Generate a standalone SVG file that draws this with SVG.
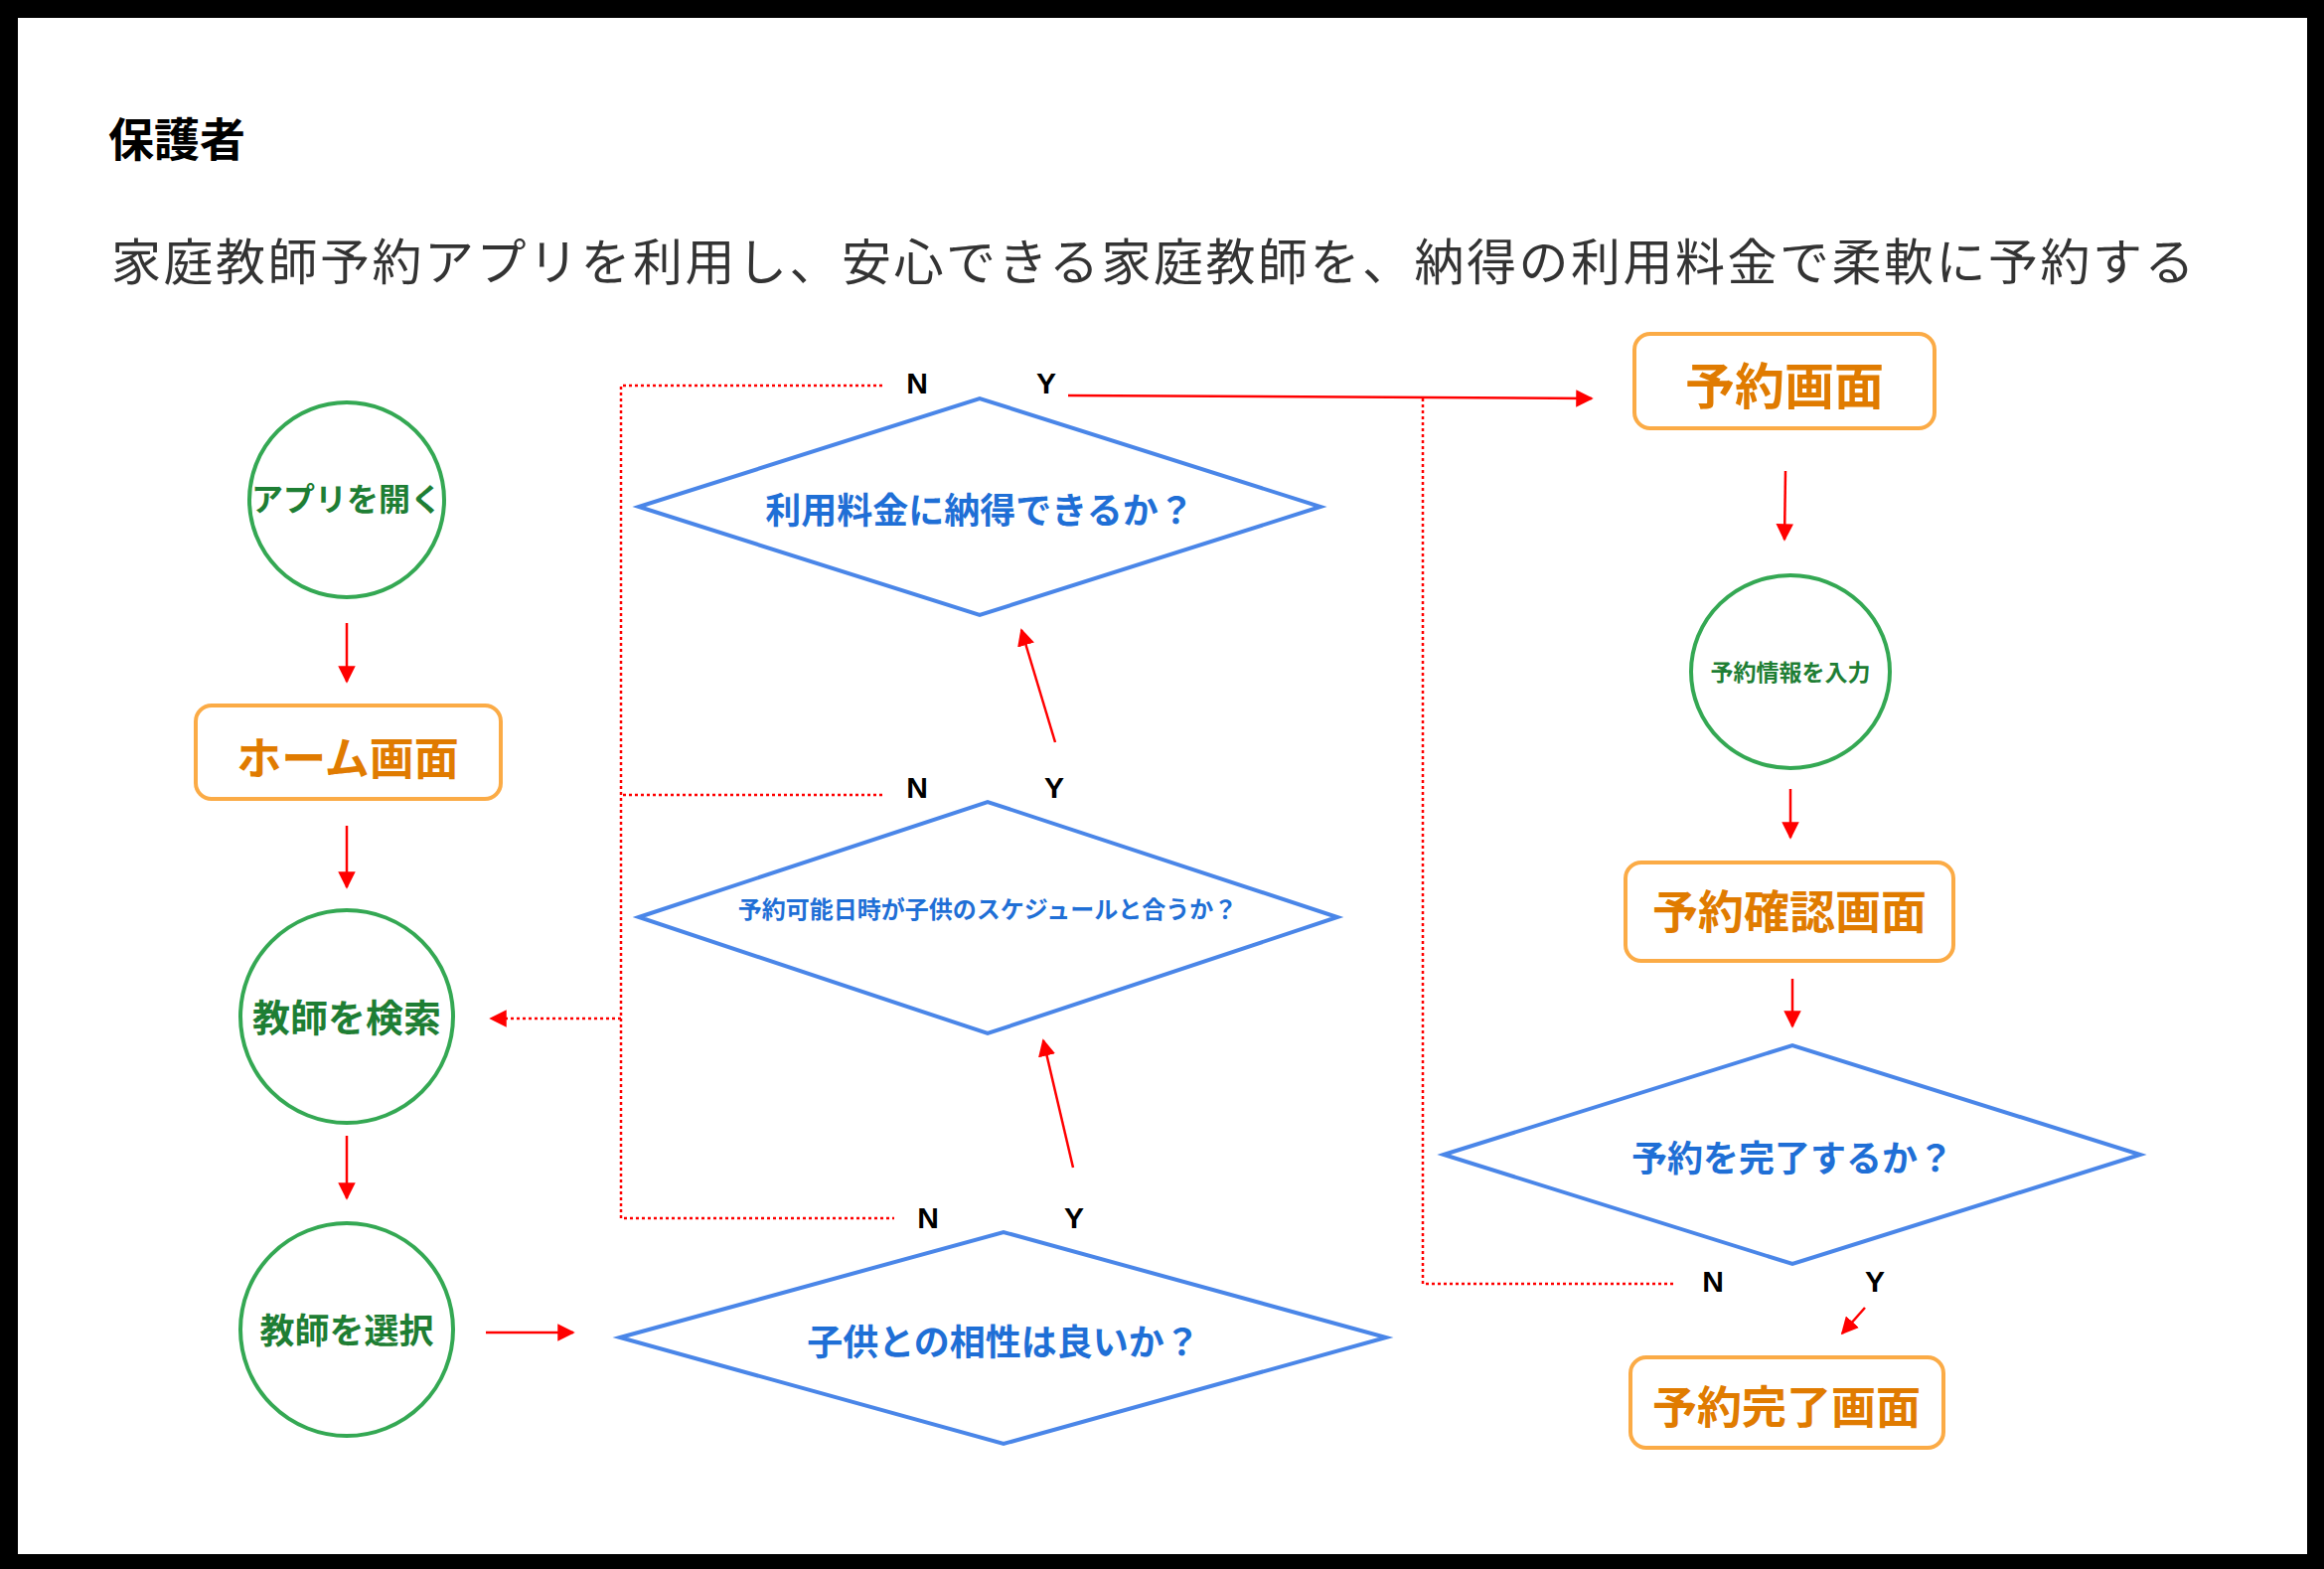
<svg xmlns="http://www.w3.org/2000/svg" width="2339" height="1579" viewBox="0 0 2339 1579">
<style>
text{font-family:"Noto Sans CJK JP","Noto Sans",sans-serif;text-anchor:middle;dominant-baseline:central}
.c{fill:#fff;stroke:#34a853;stroke-width:4}
.ct{fill:#1e7e34;font-weight:bold}
.r{fill:#fff;stroke:#fbab46;stroke-width:4}
.rt{fill:#e07b00;font-weight:bold}
.d{fill:#fff;stroke:#4a86e8;stroke-width:4}
.dt{fill:#1f6fd6;font-weight:bold}
.yn{font-family:"Liberation Sans",Arial,sans-serif;font-weight:bold;font-size:30px;fill:#000}
.s{stroke:#f00;stroke-width:2.5;fill:none}
.dot{stroke:#f00;stroke-width:2.5;fill:none;stroke-dasharray:3 3}
</style>
<defs><marker id="a" viewBox="0 0 10 10" refX="9" refY="5" markerWidth="7" markerHeight="7" orient="auto" markerUnits="strokeWidth"><path d="M0,0L10,5L0,10z" fill="#f00"/></marker></defs>
<rect x="0" y="0" width="2339" height="1579" fill="#000"/>
<rect x="18" y="18" width="2304" height="1546" fill="#fff"/>
<text x="109" y="137" style="text-anchor:start;font-size:46px;font-weight:bold" fill="#000">保護者</text>
<text x="112" y="260" style="text-anchor:start;font-size:50px;letter-spacing:2.5px" fill="#333">家庭教師予約アプリを利用し、安心できる家庭教師を、納得の利用料金で柔軟に予約する</text>
<g id="connectors">
<path class="s" d="M349,627V686" marker-end="url(#a)"/>
<path class="s" d="M349,831V893" marker-end="url(#a)"/>
<path class="s" d="M349,1143V1206" marker-end="url(#a)"/>
<path class="s" d="M489,1341H577" marker-end="url(#a)"/>
<path class="s" d="M1080,1175L1050,1047" marker-end="url(#a)"/>
<path class="s" d="M1062,747L1028,634" marker-end="url(#a)"/>
<path class="s" d="M1075,398L1602,401" marker-end="url(#a)"/>
<path class="dot" d="M1432,401V1292H1687"/>
<path class="s" d="M1797,474L1796,543" marker-end="url(#a)"/>
<path class="s" d="M1802,794V843" marker-end="url(#a)"/>
<path class="s" d="M1804,985V1033" marker-end="url(#a)"/>
<path class="s" d="M1877,1316L1854,1342" marker-end="url(#a)"/>
<path class="dot" d="M888,388H625V1226H900"/>
<path class="dot" d="M888,800H627"/>
<path class="dot" d="M625,1025H494" marker-end="url(#a)"/>
</g>
<g id="n1"><circle class="c" cx="349" cy="503" r="98"/><text class="ct" x="349" y="500" font-size="32">アプリを開く</text></g>
<g id="n2"><rect class="r" x="197" y="710" width="307" height="94" rx="16"/><text class="rt" x="350" y="760" font-size="45">ホーム画面</text></g>
<g id="n3"><circle class="c" cx="349" cy="1023" r="107"/><text class="ct" x="349" y="1021" font-size="38">教師を検索</text></g>
<g id="n4"><circle class="c" cx="349" cy="1338" r="107"/><text class="ct" x="349" y="1336" font-size="35">教師を選択</text></g>
<g id="d1"><path class="d" d="M643,510L986,401L1329,510L986,619Z"/><text class="dt" x="986" y="511" font-size="36">利用料金に納得できるか？</text></g>
<g id="d2"><path class="d" d="M643,923L994,807L1346,923L994,1040Z"/><text class="dt" x="994" y="913" font-size="24">予約可能日時が子供のスケジュールと合うか？</text></g>
<g id="d3"><path class="d" d="M624,1346L1010,1240L1395,1346L1010,1453Z"/><text class="dt" x="1010" y="1348" font-size="36">子供との相性は良いか？</text></g>
<g id="n5"><rect class="r" x="1645" y="336" width="302" height="95" rx="16"/><text class="rt" x="1796" y="385" font-size="50">予約画面</text></g>
<g id="n6"><ellipse class="c" cx="1802" cy="676" rx="100" ry="97"/><text class="ct" x="1802" y="675" font-size="23">予約情報を入力</text></g>
<g id="n7"><rect class="r" x="1636" y="868" width="330" height="99" rx="16"/><text class="rt" x="1801" y="914" font-size="46">予約確認画面</text></g>
<g id="d4"><path class="d" d="M1453,1162L1804,1052L2154,1162L1804,1272Z"/><text class="dt" x="1804" y="1163" font-size="36">予約を完了するか？</text></g>
<g id="n8"><rect class="r" x="1641" y="1366" width="315" height="91" rx="16"/><text class="rt" x="1798" y="1413" font-size="45">予約完了画面</text></g>
<g id="labels">
<text class="yn" x="923" y="385">N</text><text class="yn" x="1053" y="385">Y</text>
<text class="yn" x="923" y="792">N</text><text class="yn" x="1061" y="792">Y</text>
<text class="yn" x="934" y="1225">N</text><text class="yn" x="1081" y="1225">Y</text>
<text class="yn" x="1724" y="1289">N</text><text class="yn" x="1887" y="1289">Y</text>
</g>
</svg>
